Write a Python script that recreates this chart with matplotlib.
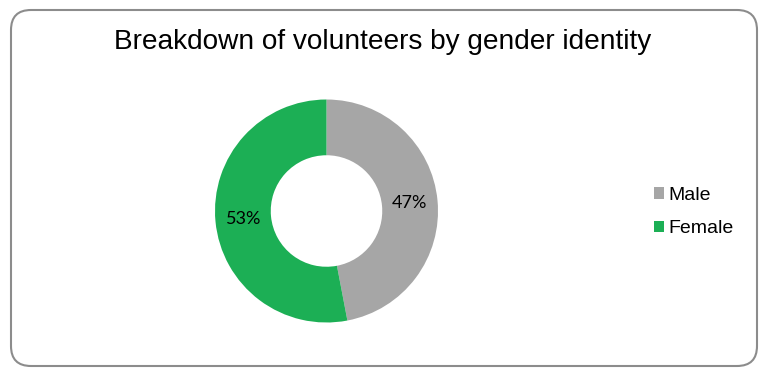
import matplotlib
matplotlib.use("Agg")
import matplotlib.pyplot as plt
from matplotlib.patches import FancyBboxPatch
from matplotlib.transforms import IdentityTransform

categories = ["Male", "Female"]
values = [47, 53]
colors = ["#a6a6a6", "#1caf55"]
title = "Breakdown of volunteers by gender identity"

W, H = 770, 376
fig = plt.figure(figsize=(W / 100, H / 100), dpi=100)
fig.patch.set_facecolor("white")

# rounded border
border = FancyBboxPatch((11, 10), 746, 356, boxstyle="round,pad=0,rounding_size=20",
                        transform=IdentityTransform(), facecolor="none",
                        edgecolor="#8c8c8c", linewidth=1.5)
fig.patches.append(border)

cx, cy, R = 326.5, 211, 111.5
ax = fig.add_axes([(cx - R) / W, (H - cy - R) / H, 2 * R / W, 2 * R / H])
wedges, texts, autotexts = ax.pie(values, colors=colors, startangle=90, counterclock=False,
                                  wedgeprops=dict(width=0.5, edgecolor="none"),
                                  autopct=lambda p: f"{round(p):d}%", pctdistance=0.75,
                                  textprops=dict(fontsize=13, family="Lato", color="black"))
ax.set_xlim(-1, 1)
ax.set_ylim(-1, 1)
ax.set_aspect("equal")
ax.axis("off")

fig.text(383 / W, 1 - 42 / H, title, ha="center", va="center", fontsize=20.2,
         family="Liberation Sans", color="black")

leg = fig.legend(wedges, categories, loc="center left", bbox_to_anchor=(636 / W, 1 - 212 / H),
                 frameon=False, handlelength=0.55, handleheight=0.55, handletextpad=0.2,
                 labelspacing=0.85, prop=dict(family="Liberation Sans", size=14))

fig.savefig("out.png", dpi=100)
